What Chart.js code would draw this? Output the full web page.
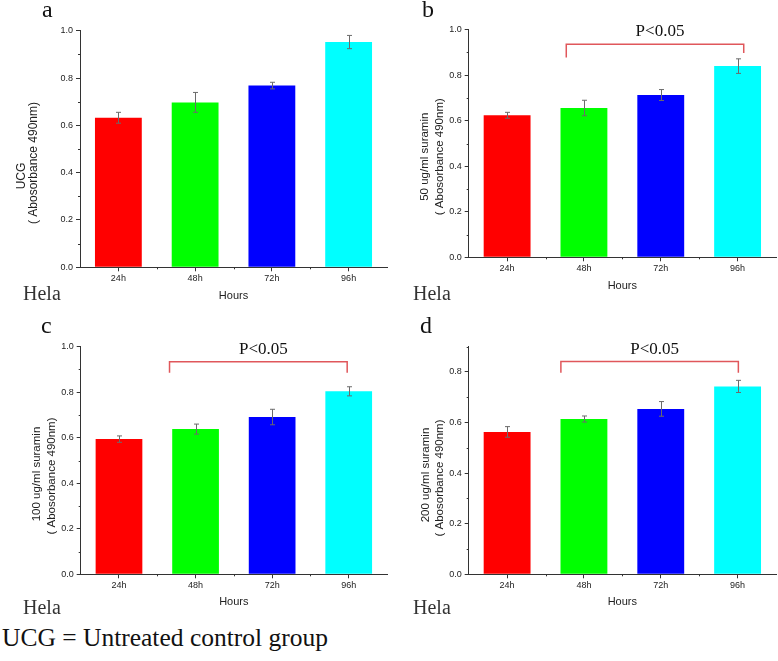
<!DOCTYPE html>
<html>
<head>
<meta charset="utf-8">
<script src="https://cdn.jsdelivr.net/npm/chart.js@4.4.1/dist/chart.umd.min.js"></script>
<style>
  html, body { margin: 0; padding: 0; background: #fff; }
  #page { position: relative; width: 778px; height: 661px; overflow: hidden; }
  .panel { position: absolute; }
  #note { position: absolute; left: 2px; top: 625px; font: 25.5px/25.5px "Liberation Serif", serif; color: #111; white-space: nowrap; }
</style>
</head>
<body>
<div id="page">
  <div class="panel" style="left:0;top:0"><canvas id="pa" width="390" height="310"></canvas></div>
  <div class="panel" style="left:390px;top:0"><canvas id="pb" width="388" height="310"></canvas></div>
  <div class="panel" style="left:0;top:310px"><canvas id="pc" width="390" height="310"></canvas></div>
  <div class="panel" style="left:390px;top:310px"><canvas id="pd" width="388" height="310"></canvas></div>
  <div id="note">UCG = Untreated control group</div>
</div>
<script>
// values (absorbance at 490nm, mean and error)
const hours = ['24h', '48h', '72h', '96h'];
const ucgMean = [0.632, 0.697, 0.768, 0.952];
const ucgErr = [0.023, 0.042, 0.014, 0.028];
const sur50Mean = [0.624, 0.656, 0.713, 0.840];
const sur50Err = [0.013, 0.034, 0.024, 0.032];
const sur100Mean = [0.594, 0.638, 0.691, 0.804];
const sur100Err = [0.014, 0.022, 0.034, 0.020];
const sur200Mean = [0.563, 0.614, 0.654, 0.743];
const sur200Err = [0.021, 0.012, 0.029, 0.024];
const barColors = ['#ff0000', '#00ff00', '#0000ff', '#00ffff'];

const sans = "'Liberation Sans', Arial, sans-serif";
const serif = "'Liberation Serif', 'Times New Roman', serif";
const axisColor = '#333';

// error bars, minor ticks, bracket and the loose text of each panel
const panelDeco = {
  id: 'panelDeco',
  afterDatasetsDraw(chart, args, o) {
    const ctx = chart.ctx;
    const y = chart.scales.y;
    const meta = chart.getDatasetMeta(0);
    ctx.save();
    ctx.strokeStyle = '#6b6b6b';
    ctx.lineWidth = 1;
    meta.data.forEach((bar, i) => {
      const m = o.means[i], e = o.errs[i];
      const x = Math.round(bar.x) + 0.5;
      const yt = y.getPixelForValue(m + e), yb = y.getPixelForValue(m - e);
      ctx.beginPath();
      ctx.moveTo(x, yt); ctx.lineTo(x, yb);
      ctx.moveTo(x - 2.5, yt); ctx.lineTo(x + 2.5, yt);
      ctx.moveTo(x - 2.5, yb); ctx.lineTo(x + 2.5, yb);
      ctx.stroke();
    });
    ctx.restore();
  },
  afterDraw(chart, args, o) {
    const ctx = chart.ctx;
    const {left, bottom} = chart.chartArea;
    const x = chart.scales.x, y = chart.scales.y;
    ctx.save();
    // minor ticks
    ctx.strokeStyle = axisColor;
    ctx.lineWidth = 1;
    ctx.beginPath();
    for (let v = 0.1; v < y.max; v += 0.2) {
      const py = Math.round(y.getPixelForValue(v)) + 0.5;
      ctx.moveTo(left - 2, py); ctx.lineTo(left, py);
    }
    for (let i = 1; i < hours.length; i++) {
      const px = Math.round(x.getPixelForValue(i - 0.5)) + 0.5;
      ctx.moveTo(px, bottom); ctx.lineTo(px, bottom + 2);
    }
    ctx.stroke();

    // y title lines
    ctx.fillStyle = '#222';
    ctx.textAlign = 'center';
    ctx.textBaseline = 'middle';
    o.yTitle.forEach(t => {
      ctx.save();
      ctx.translate(t.x, t.y);
      ctx.rotate(-Math.PI / 2);
      ctx.font = o.yTitleSize + 'px ' + sans;
      ctx.fillText(t.text, 0, 0);
      ctx.restore();
    });

    // significance bracket
    if (o.bracket) {
      const b = o.bracket;
      const x1 = x.getPixelForValue(b.from), x2 = x.getPixelForValue(b.to);
      const yTop = y.getPixelForValue(b.top);
      ctx.strokeStyle = '#e0575b';
      ctx.lineWidth = 1.5;
      ctx.beginPath();
      ctx.moveTo(x1, y.getPixelForValue(b.legFrom));
      ctx.lineTo(x1, yTop);
      ctx.lineTo(x2, yTop);
      ctx.lineTo(x2, y.getPixelForValue(b.legTo));
      ctx.stroke();
      ctx.fillStyle = '#111';
      ctx.font = '17px ' + serif;
      ctx.textBaseline = 'alphabetic';
      ctx.fillText(b.label, (x1 + x2) / 2 + 5, yTop - 8);
    }

    // panel letter and cell line name
    ctx.fillStyle = '#111';
    ctx.textAlign = 'left';
    ctx.textBaseline = 'alphabetic';
    ctx.font = '24px ' + serif;
    ctx.fillText(o.letter.text, o.letter.x, o.letter.y);
    ctx.fillStyle = '#333';
    ctx.font = '20px ' + serif;
    ctx.fillText('Hela', o.cell.x, o.cell.y);
    ctx.restore();
  }
};

function makePanel(id, means, errs, p) {
  return new Chart(document.getElementById(id), {
    type: 'bar',
    data: {
      labels: hours,
      datasets: [{
        data: means,
        backgroundColor: barColors,
        borderWidth: 0,
        categoryPercentage: 1,
        barPercentage: 0.61
      }]
    },
    options: {
      responsive: false,
      animation: false,
      devicePixelRatio: 1,
      layout: { padding: { left: 0, right: p.padRight, top: p.top, bottom: 0 } },
      plugins: {
        legend: { display: false },
        tooltip: { enabled: false },
        panelDeco: {
          means: means, errs: errs,
          yTitle: p.yTitle, yTitleSize: p.yTitleSize,
          bracket: p.bracket, letter: p.letter, cell: p.cell
        }
      },
      scales: {
        x: {
          afterFit(scale) { scale.height = p.xHeight; },
          grid: { offset: false, drawOnChartArea: false, tickLength: 4, color: axisColor },
          border: { color: axisColor, width: 1 },
          ticks: { padding: 2, color: '#222', font: { family: sans, size: 9 } },
          title: { display: true, text: 'Hours', color: '#222',
                   font: { family: sans, size: 11 }, padding: { top: 0, bottom: p.hoursPad } }
        },
        y: {
          min: 0, max: p.max,
          afterFit(scale) { scale.width = p.left; },
          grid: {
            drawOnChartArea: false, tickLength: 4,
            color: ctx => (Math.round(ctx.tick.value * 10) % 2 === 0 ? axisColor : 'rgba(0,0,0,0)')
          },
          border: { color: axisColor, width: 1 },
          ticks: {
            stepSize: 0.1, autoSkip: false, padding: 3, color: '#222',
            font: { family: sans, size: 9 },
            callback: v => (Math.round(v * 10) % 2 === 0 ? v.toFixed(1) : '')
          }
        }
      }
    },
    plugins: [panelDeco]
  });
}

makePanel('pa', ucgMean, ucgErr, {
  left: 80, padRight: 3, top: 30.7, xHeight: 42.7, hoursPad: 7.4, max: 1.0,
  yTitleSize: 12,
  yTitle: [{ text: 'UCG', x: 21.7, y: 176 }, { text: '( Abosorbance 490nm)', x: 33.7, y: 163 }],
  letter: { text: 'a', x: 42, y: 17 }, cell: { x: 23, y: 300 }
});
makePanel('pb', sur50Mean, sur50Err, {
  left: 78.7, padRight: 2, top: 29.7, xHeight: 52.7, hoursPad: 17.7, max: 1.0,
  yTitleSize: 11.5,
  yTitle: [{ text: '50 ug/ml suramin', x: 35, y: 156.7 }, { text: '( Abosorbance 490nm)', x: 49.7, y: 156.7 }],
  bracket: { from: 0.77, to: 3.08, top: 0.936, legFrom: 0.878, legTo: 0.898, label: 'P<0.05' },
  letter: { text: 'b', x: 32, y: 17 }, cell: { x: 23, y: 300 }
});
makePanel('pc', sur100Mean, sur100Err, {
  left: 80.7, padRight: 3, top: 36.7, xHeight: 45.7, hoursPad: 11.4, max: 1.0,
  yTitleSize: 11.5,
  yTitle: [{ text: '100 ug/ml suramin', x: 37, y: 164 }, { text: '( Abosorbance 490nm)', x: 51.7, y: 166 }],
  bracket: { from: 0.66, to: 2.98, top: 0.934, legFrom: 0.886, legTo: 0.886, label: 'P<0.05' },
  letter: { text: 'c', x: 41, y: 23 }, cell: { x: 23, y: 304 }
});
makePanel('pd', sur200Mean, sur200Err, {
  left: 78.7, padRight: 2, top: 36.7, xHeight: 45.7, hoursPad: 11.4, max: 0.9,
  yTitleSize: 11.5,
  yTitle: [{ text: '200 ug/ml suramin', x: 36, y: 165 }, { text: '( Abosorbance 490nm)', x: 50, y: 168 }],
  bracket: { from: 0.70, to: 3.01, top: 0.841, legFrom: 0.797, legTo: 0.797, label: 'P<0.05' },
  letter: { text: 'd', x: 30, y: 23 }, cell: { x: 23, y: 304 }
});
</script>
</body>
</html>
